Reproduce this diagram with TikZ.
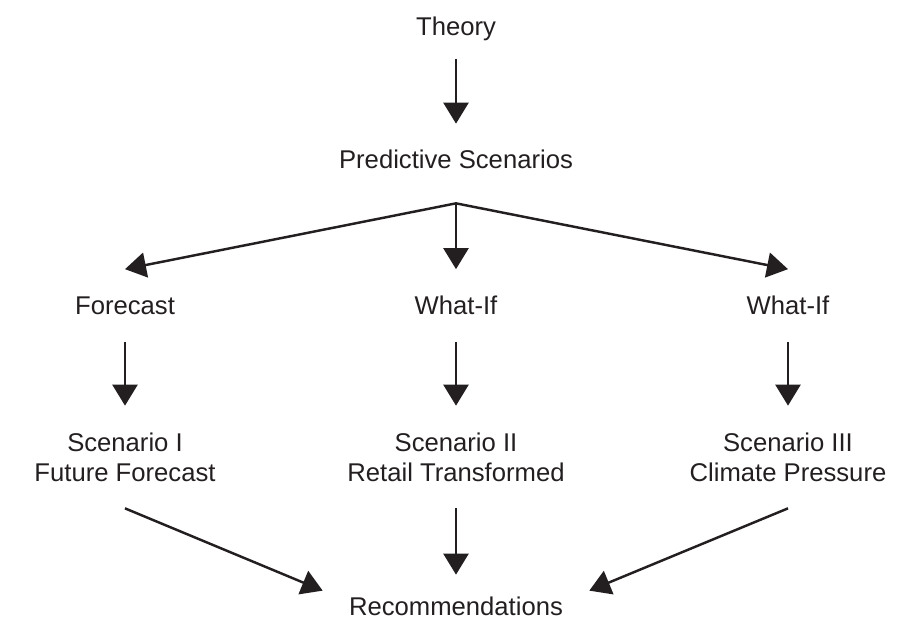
\documentclass[tikz,border=0pt]{standalone}
\usepackage{fontspec}
\setmainfont{Liberation Sans}
\usetikzlibrary{arrows.meta,positioning}
\definecolor{ink}{HTML}{231F20}

\begin{document}
\begin{tikzpicture}
      [   x=0.02cm,y=-0.02cm,
          txt/.style={text=ink,inner sep=0pt,align=center,minimum height=#1,
                      font=\fontsize{14.6}{17.1}\selectfont},
          arr/.style={draw=ink,line width=1.4pt,-{Triangle[length=0.42cm,width=0.5cm]}},
      ]
          \useasboundingbox (0,0) rectangle (907,619);
          \node[txt=1.18cm] (theory) at (456,29) {Theory};
          \node[txt=1.4cm] (pred) at (456,159) {Predictive Scenarios};
          \coordinate[below=0.18cm of pred] (fork);
          \draw[arr] (theory) -- (pred);
          \node[txt=0.6cm,minimum width=5.32cm] (rec) at (456,606) {Recommendations};
          \foreach \i/\x/\kind/\scen in {1/125/Forecast/{Scenario I\\Future Forecast},
                                         2/456/What-If/{Scenario II\\Retail Transformed},
                                         3/788/What-If/{Scenario III\\Climate Pressure}}
          {   \node[txt=1.44cm] (kind-\i) at (\x,305.5) {\kind};
              \node[txt=2.04cm] (scen-\i) at (\x,457) {\scen};
              \draw[arr] (fork) -- (kind-\i.north);
              \draw[arr] (kind-\i) -- (scen-\i);
          }
          \draw[arr] (scen-1.south) -- (rec.north west);
          \draw[arr,shorten >=0.32cm] (scen-2.south) -- (rec.north);
          \draw[arr] (scen-3.south) -- (rec.north east);
    \end{tikzpicture}
\end{document}
